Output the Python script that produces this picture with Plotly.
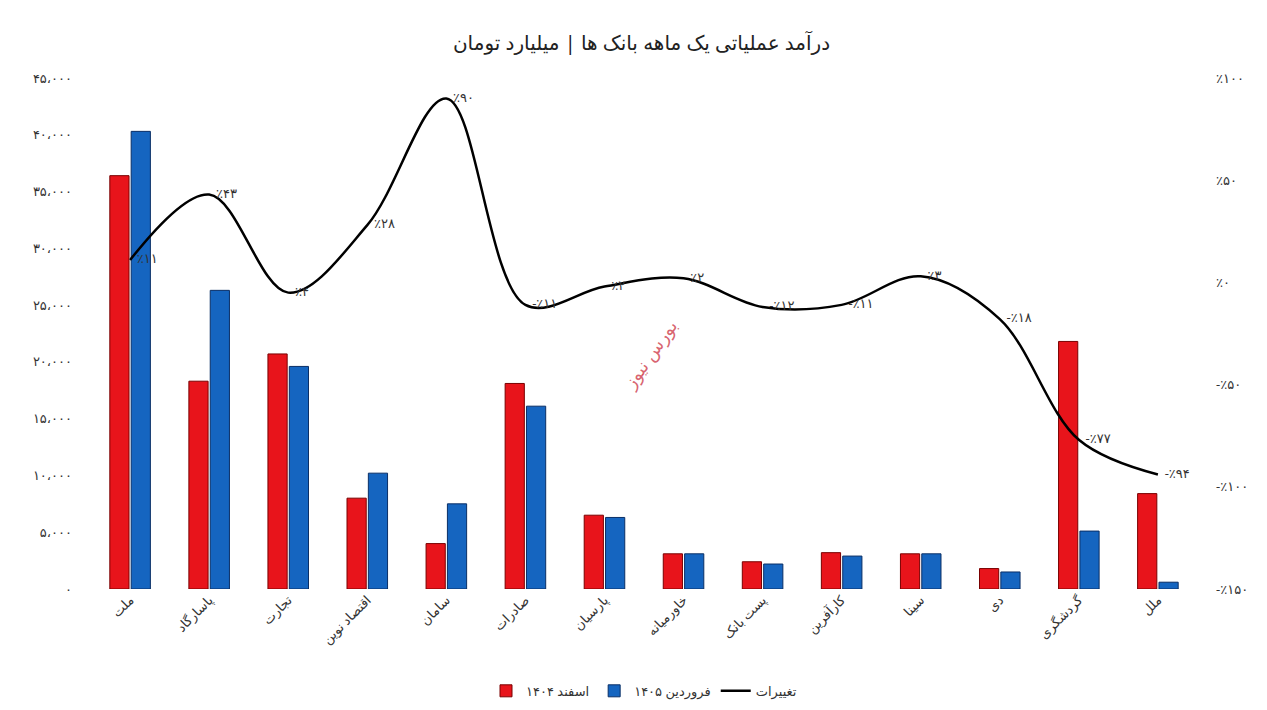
import plotly.graph_objects as go

banks = ["ملت", "پاسارگاد", "تجارت", "اقتصاد نوین", "سامان", "صادرات", "پارسیان",
         "خاورمیانه", "پست بانک", "کارآفرین", "سینا", "دی", "گردشگری", "ملل"]
esfand_1404 = [36400, 18300, 20700, 8000, 4000, 18100, 6500, 3100, 2400, 3200, 3100, 1800, 21800, 8400]
farvardin_1405 = [40300, 26300, 19600, 10200, 7500, 16100, 6300, 3100, 2200, 2900, 3100, 1500, 5100, 600]
change = [11, 43, -5, 28, 90, -11, -2, 2, -12, -11, 3, -18, -77, -94]
change_labels = ["٪۱۱", "٪۴۳", "٪۴", "٪۲۸", "٪۹۰", "-٪۱۱", "٪۲", "٪۲", "-٪۱۲", "-٪۱۱", "٪۳",
                 "-٪۱۸", "-٪۷۷", "-٪۹۴"]

left_ticks = [0, 5000, 10000, 15000, 20000, 25000, 30000, 35000, 40000, 45000]
left_text = ["۰", "۵،۰۰۰", "۱۰،۰۰۰", "۱۵،۰۰۰", "۲۰،۰۰۰", "۲۵،۰۰۰", "۳۰،۰۰۰", "۳۵،۰۰۰", "۴۰،۰۰۰", "۴۵،۰۰۰"]
right_ticks = [-150, -100, -50, 0, 50, 100]
right_text = ["-٪۱۵۰", "-٪۱۰۰", "-٪۵۰", "٪۰", "٪۵۰", "٪۱۰۰"]

fig = go.Figure()
fig.add_bar(x=banks, y=esfand_1404, name="اسفند ۱۴۰۴",
            marker=dict(color="#e8141b", line=dict(color="#7a0000", width=1)))
fig.add_bar(x=banks, y=farvardin_1405, name="فروردین ۱۴۰۵",
            marker=dict(color="#1565c0", line=dict(color="#0a2f66", width=1)))
fig.add_scatter(x=banks, y=change, name="تغییرات", yaxis="y2", mode="lines+text",
                line=dict(color="black", width=2.5, shape="spline", smoothing=1.0),
                text=["  " + t for t in change_labels], textposition="middle right",
                textfont=dict(size=13, color="#333"))

fig.update_layout(
    width=1267, height=710,
    paper_bgcolor="white", plot_bgcolor="white",
    font=dict(family="Noto Sans, DejaVu Sans", size=13, color="#333"),
    title=dict(text="درآمد عملیاتی یک ماهه بانک ها | میلیارد تومان", x=0.5, y=0.96,
               font=dict(size=20, color="#222")),
    margin=dict(l=65, r=60, t=70, b=118),
    barmode="group", bargap=0.46, bargroupgap=0.1,
    xaxis=dict(tickangle=-45, showline=False, ticks=""),
    yaxis=dict(range=[0, 45000], tickvals=left_ticks, ticktext=left_text, showgrid=False,
               zeroline=False),
    yaxis2=dict(range=[-150, 100], tickvals=right_ticks, ticktext=right_text, overlaying="y",
                side="right", showgrid=False, zeroline=False),
    legend=dict(orientation="h", x=0.5, xanchor="center", y=-0.17, yanchor="top",
                font=dict(size=13)),
    annotations=[dict(text="بورس نیوز", x=0.505, y=0.46, xref="paper", yref="paper",
                      showarrow=False, textangle=-55,
                      font=dict(size=18, color="rgba(200,30,50,0.7)"))],
)

fig.write_html("out.html")
